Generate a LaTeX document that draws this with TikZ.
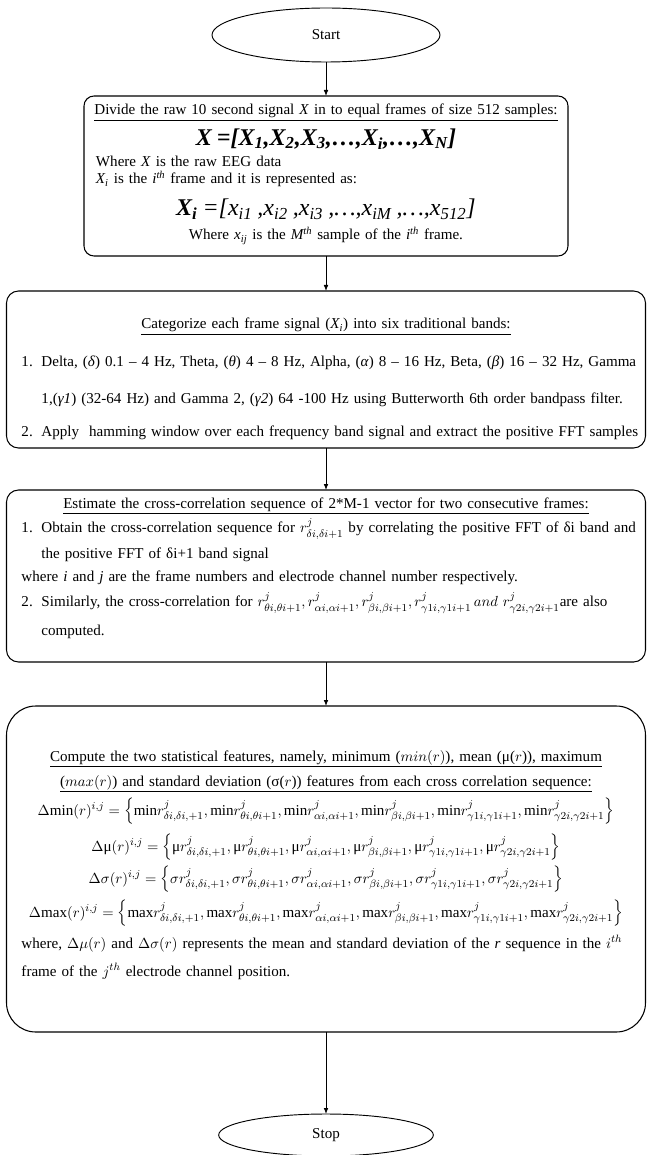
\documentclass[tikz,border=0pt]{standalone}
\usepackage{fontspec}
\setmainfont{Liberation Serif}
\usepackage{amsmath}
\usetikzlibrary{chains,shapes.geometric,arrows.meta}

\newcommand{\featset}[1]{\left\{#1r^{j}_{\delta i,\delta i,+1},#1r^{j}_{\theta i,\theta i+1},#1r^{j}_{\alpha i,\alpha i+1},#1r^{j}_{\beta i,\beta i+1},#1r^{j}_{\gamma 1i,\gamma 1i+1},#1r^{j}_{\gamma 2i,\gamma 2i+1}\right\}}
\newcommand{\numitem}[1]{\makebox[15pt][l]{#1}}
\newcommand{\ctrline}[1]{\makebox[\linewidth][c]{\smash{#1}}}
\newcommand{\lftline}[1]{\makebox[\linewidth][l]{\smash{#1}}}
\newcommand{\sub}[1]{\textsubscript{#1}}

\begin{document}
\begin{tikzpicture}[
	start chain=1 going below,
	node distance=26pt,
	term/.style={
		on chain=1,
		ellipse,
		draw=black,
		line width=0.7pt,
		inner sep=0pt,
		outer sep=0pt,
		font=\fontsize{11.3}{12.75}\selectfont
		},
	stepbox/.style={
		on chain=1,
		rectangle,
		rounded corners=9pt,
		draw=black,
		line width=0.8pt,
		inner ysep=0pt,
		outer sep=0pt,
		font=\fontsize{11.3}{12.75}\selectfont
		},
	wide/.style={
		text width=456.75pt,
		inner xsep=11.25pt
	},
	arrow/.style={
		-{Latex[length=4.5pt,width=3.5pt]},
		line width=0.6pt
	}
]
\useasboundingbox (-244.5pt,26.25pt) rectangle (241.5pt,-840pt);

% Terminals and steps
\node [term, minimum width=171pt, minimum height=40.5pt] (start) {Start};

\node [node distance=25.5pt, stepbox, text width=345pt, inner xsep=9pt, rounded corners=7.5pt,
	text height=14.25pt, text depth=105.75pt] (divide) {%
	\ctrline{\underline{Divide the raw 10 second signal \textit{X} in to equal frames of size 512 samples:}}\\[10pt]
	\ctrline{\fontsize{18}{18}\selectfont\bfseries\itshape X =[X\sub{1},X\sub{2},X\sub{3},\ldots,X\sub{i},\ldots,X\sub{N}]}\\[3.5pt]
	\lftline{Where \textit{X} is the raw EEG data}\\
	\lftline{\textit{X\sub{i}} is the \textit{i\textsuperscript{th}} frame and it is represented as:}\\[11.25pt]
	\ctrline{\fontsize{18}{18}\selectfont\itshape\textbf{X\sub{i}} =[x\sub{i1} ,x\sub{i2} ,x\sub{i3} ,\ldots,x\sub{iM} ,\ldots,x\sub{512}]}\\[5.25pt]
	\ctrline{Where \textit{x\sub{ij}} is the \textit{M\textsuperscript{th}} sample of the \textit{i\textsuperscript{th}} frame.}};

\node [node distance=26.25pt, stepbox, wide, text height=28.5pt, text depth=89.25pt] (bands) {%
	\ctrline{\underline{Categorize each frame signal (\textit{X\sub{i}}) into six traditional bands:}}\\[15.75pt]
	\lftline{\numitem{1.}Delta, (\textit{δ}) 0.1 -- 4 Hz, Theta, (\textit{θ}) 4 -- 8 Hz, Alpha, (\textit{α}) 8 -- 16 Hz, Beta, (\textit{β}) 16 -- 32 Hz, Gamma}\\[14.25pt]
	\lftline{\hspace*{15pt}1,(\textit{γ1}) (32-64 Hz) and Gamma 2, (\textit{γ2}) 64 -100 Hz using Butterworth 6th order bandpass filter.}\\[12.75pt]
	\lftline{\numitem{2.}Apply\ \ hamming window over each frequency band signal and extract the positive FFT samples}};

\node [node distance=31.5pt, stepbox, wide, text height=13.5pt, text depth=115.5pt] (xcorr) {%
	\ctrline{\underline{Estimate the cross-correlation sequence of 2*M-1 vector for two consecutive frames:}}\\[5.5pt]
	\lftline{\numitem{1.}Obtain the cross-correlation sequence for $r^{j}_{\delta i,\delta i+1}$ by correlating the positive FFT of δi band and}\\[6.5pt]
	\lftline{\hspace*{15pt}the positive FFT of δi+1 band signal}\\[4.5pt]
	\lftline{where \textit{i} and \textit{j} are the frame numbers and electrode channel number respectively.}\\[6.5pt]
	\lftline{\numitem{2.}Similarly, the cross-correlation for $r^{j}_{\theta i,\theta i+1},r^{j}_{\alpha i,\alpha i+1},r^{j}_{\beta i,\beta i+1},r^{j}_{\gamma 1i,\gamma 1i+1}\,and\ r^{j}_{\gamma 2i,\gamma 2i+1}$are also}\\[8.5pt]
	\lftline{\hspace*{15pt}computed.}};

\node [node distance=33pt, stepbox, wide, rounded corners=22pt, text height=41.25pt, text depth=203.25pt] (stats) {%
	\ctrline{\underline{Compute the two statistical features, namely, minimum ($min(r)$), mean (μ($r$)), maximum}}\\[6pt]
	\ctrline{\underline{($max(r)$) and standard deviation (σ($r$)) features from each cross correlation sequence:}}\\[9pt]
	\ctrline{$\Delta\mathrm{min}(r)^{i,j}=\featset{\mathrm{min}}$}\\[14.25pt]
	\ctrline{$\Delta\text{μ}(r)^{i,j}=\featset{\text{μ}}$}\\[11.25pt]
	\ctrline{$\Delta\sigma(r)^{i,j}=\featset{\sigma}$}\\[12.75pt]
	\ctrline{$\Delta\mathrm{max}(r)^{i,j}=\featset{\mathrm{max}}$}\\[10.5pt]
	\lftline{where, $\Delta\mu(r)$ and $\Delta\sigma(r)$ represents the mean and standard deviation of the \textit{r} sequence in the $i^{th}$}\\[8.25pt]
	\lftline{frame of the $j^{th}$ electrode channel position.}};

\node [node distance=61.5pt, term, minimum width=161pt, minimum height=31.5pt] (stop) {Stop};

% Connectors
\draw [arrow] (start) -- (divide);
\draw [arrow] (divide) -- (bands);
\draw [arrow] (bands) -- (xcorr);
\draw [arrow] (xcorr) -- (stats);
\draw [arrow] (stats) -- (stop);

\end{tikzpicture}
\end{document}
